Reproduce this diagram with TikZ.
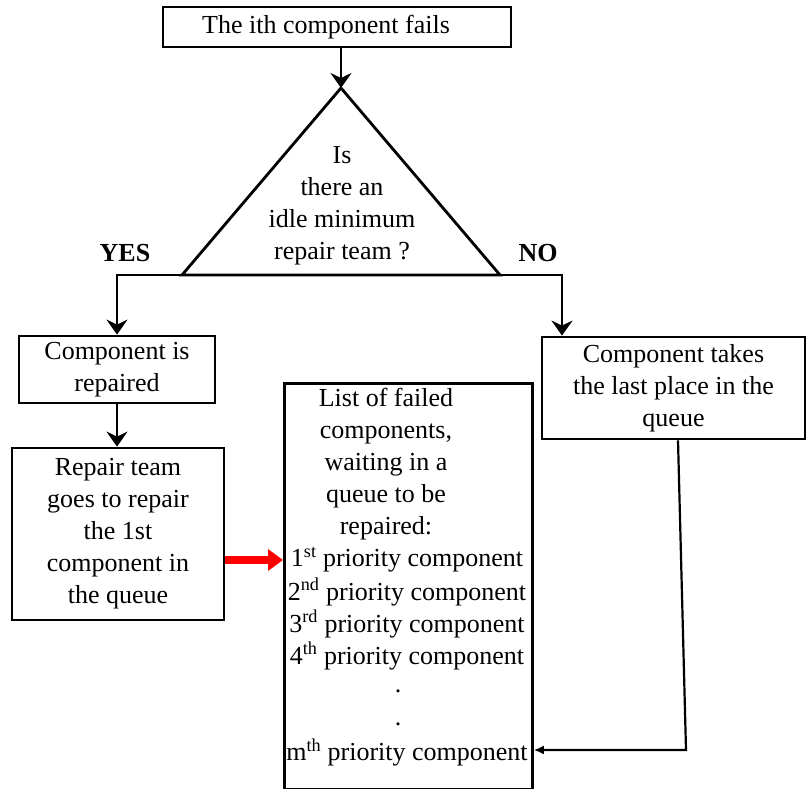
\documentclass[tikz,border=0pt]{standalone}
\usepackage{fontspec}
\setmainfont{Liberation Serif}
\usetikzlibrary{arrows}
\usetikzlibrary{arrows.meta}
\tikzset{
 txt/.style={font=\fontsize{26}{32}\selectfont, align=center, inner sep=0},
 box/.style={txt, draw, line width=2.8pt},
 flow/.style={line width=2.8pt, -{Stealth[length=15pt,width=21pt,inset=5pt]}},
 back/.style={line width=2.2pt, -{Latex[length=10pt,width=9pt]}},
 redarrow/.style={red, line width=7.5pt, -{Triangle[length=15pt,width=21pt]}},
}

\begin{document}
\begin{tikzpicture}[x=1pt, y=-1pt]
\useasboundingbox (0,0) rectangle (806,789);
% start
\node[box, minimum width=348, minimum height=40] (fail) at (337,27) {The ith component fails\hspace*{22pt}};
% decision
\coordinate (apex) at (341,88);
\coordinate (tl) at (182,275);
\coordinate (tr) at (500,275);
\draw[line width=2.8pt] (apex) -- (tr) -- (tl) -- cycle;
\node[txt] (ask) at (342,206) {Is\\there an\\idle minimum\\repair team ?};
\draw[flow] (apex |- fail.south) -- (apex);
\node[txt, font=\fontsize{26}{32}\selectfont\bfseries] (yes) at (125,253) {YES};
\node[txt, font=\fontsize{26}{32}\selectfont\bfseries] (no) at (538,253) {NO};
% yes branch
\node[box, minimum width=196, minimum height=67] (rep) at (117,369.5) {Component is\\repaired};
\node[box, minimum width=212, minimum height=172] (team) at (118,534) {Repair team\\goes to repair\\the 1st\\component in\\the queue};
\draw[flow] (tl) -| (rep.north);
\draw[flow] (rep.south) -- (rep.south |- team.north);
% no branch
\node[box, minimum width=263, minimum height=102] (last) at (673.5,388) {Component takes\\the last place in the\\queue};
\coordinate (nocorner) at (562,275);
\draw[flow] (tr) -- (nocorner) -- (nocorner |- last.north);
% queue
\node[box, minimum width=248, minimum height=406, anchor=north west] (list) at (283,382) {};
\node[txt] (head) at (386,464) {List of failed\\components,\\waiting in a\\queue to be\\repaired:};
\foreach \n/\s/\y in {1/st/560, 2/nd/592, 3/rd/624, 4/th/656}
  \node[txt] (p\n) at (407,\y) {\n\textsuperscript{\s} priority component};
\node[txt] (dot1) at (398,691) {.};
\node[txt] (dot2) at (398,724) {.};
\node[txt] (pm) at (407,752) {m\textsuperscript{th} priority component};
\draw[redarrow] (team.east |- p1) -- (list.west |- p1);
\coordinate (bend) at (686,750);
\draw[back] ([xshift=4.5pt]last.south) -- (bend) -- (list.east |- bend);
\end{tikzpicture}
\end{document}
